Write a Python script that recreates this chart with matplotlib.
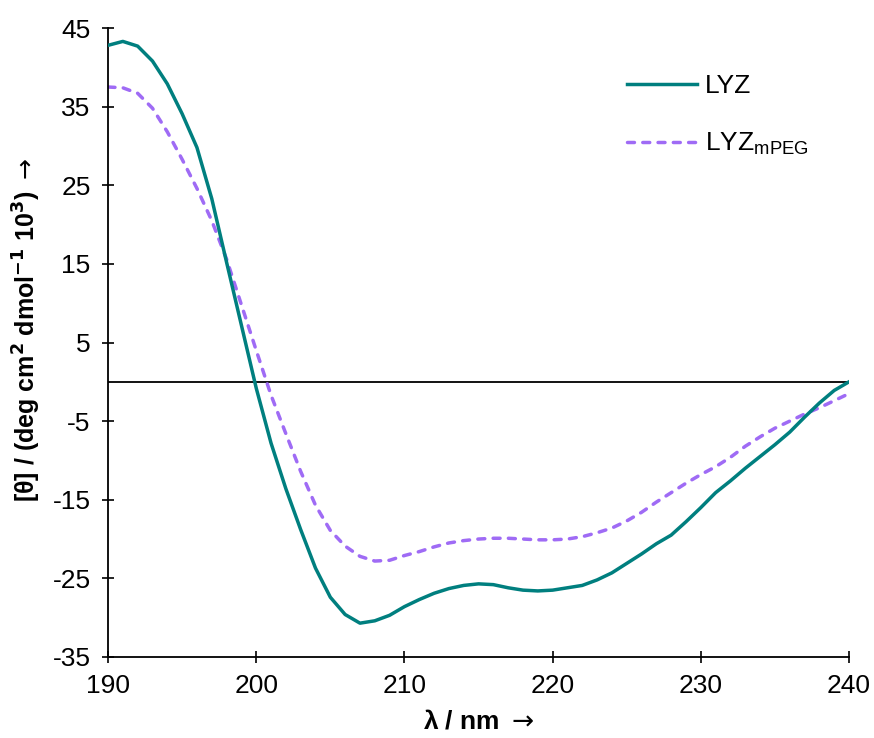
import matplotlib
matplotlib.use('Agg')
import matplotlib.pyplot as plt

plt.rcParams['font.family'] = ['Liberation Sans', 'DejaVu Sans']
plt.rcParams['mathtext.fontset'] = 'custom'
plt.rcParams['mathtext.rm'] = 'Liberation Sans'
plt.rcParams['mathtext.bf'] = 'Liberation Sans:bold'
plt.rcParams['axes.unicode_minus'] = False

# wavelength (nm)
wl = list(range(190, 241))

# LYZ
lyz = [42.8, 43.3, 42.7, 40.8, 37.9, 34.1, 29.8, 23.3, 15.2, 7.2,
       -0.8, -7.8, -13.6, -18.8, -23.7, -27.4, -29.6, -30.7, -30.4, -29.7,
       -28.6, -27.7, -26.9, -26.3, -25.9, -25.7, -25.8, -26.2, -26.5, -26.6,
       -26.5, -26.2, -25.9, -25.2, -24.3, -23.1, -21.9, -20.6, -19.5, -17.8,
       -16.0, -14.1, -12.6, -11.0, -9.5, -8.0, -6.4, -4.5, -2.7, -1.1,
       0.0]

# LYZ-mPEG
lyz_mpeg = [37.5, 37.4, 36.7, 34.8, 31.8, 28.3, 24.6, 20.5, 15.6, 9.8,
            4.0, -1.7, -6.6, -11.4, -15.7, -18.9, -20.9, -22.2, -22.8, -22.7,
            -22.1, -21.6, -21.0, -20.5, -20.2, -20.0, -19.9, -19.9, -20.0, -20.1,
            -20.1, -20.0, -19.7, -19.2, -18.6, -17.7, -16.6, -15.3, -14.1, -12.9,
            -11.8, -10.8, -9.6, -8.2, -7.0, -5.9, -5.0, -4.1, -3.3, -2.4,
            -1.5]

xticks = [190, 200, 210, 220, 230, 240]
yticks = [-35, -25, -15, -5, 5, 15, 25, 35, 45]

fig = plt.figure(figsize=(8.74, 7.38), dpi=100)
ax = fig.add_axes([0.1236, 0.1098, 0.8478, 0.8522])

ax.axhline(0, color='black', lw=1.3, zorder=1)
ax.plot(wl, lyz, color='#007F7F', lw=2.5, label='LYZ', zorder=3)
ax.plot(wl, lyz_mpeg, color='#9F6BF5', lw=2.5, dashes=(2.0, 2.4),
        dash_capstyle='round', label=r'LYZ$_{\mathrm{mPEG}}$', zorder=2)

ax.set_xlim(190, 240)
ax.set_ylim(-35, 45)
ax.set_xticks(xticks)
ax.set_yticks(yticks)
ax.tick_params(direction='inout', length=9, width=1.2, labelsize=19, pad=8)

for s in ['top', 'right']:
    ax.spines[s].set_visible(False)
for s in ['left', 'bottom']:
    ax.spines[s].set_linewidth(1.3)

ax.set_xlabel(r'λ / nm $\rightarrow$', fontsize=19, fontweight='bold', labelpad=8,
              math_fontfamily='dejavusans')
ax.set_ylabel(r'[θ] / (deg cm$^{\mathbf{2}}$ dmol$^{\mathbf{-1}}$ 10$^{\mathbf{3}}$) $\rightarrow$',
              fontsize=18, fontweight='bold', math_fontfamily='dejavusans')
ax.yaxis.set_label_coords(-0.088, 0.52)

ax.legend(loc='upper right', bbox_to_anchor=(0.978, 0.965), frameon=False,
          fontsize=19, handlelength=2.65, labelspacing=1.25, handletextpad=0.3)

fig.savefig('out.png', dpi=100)
